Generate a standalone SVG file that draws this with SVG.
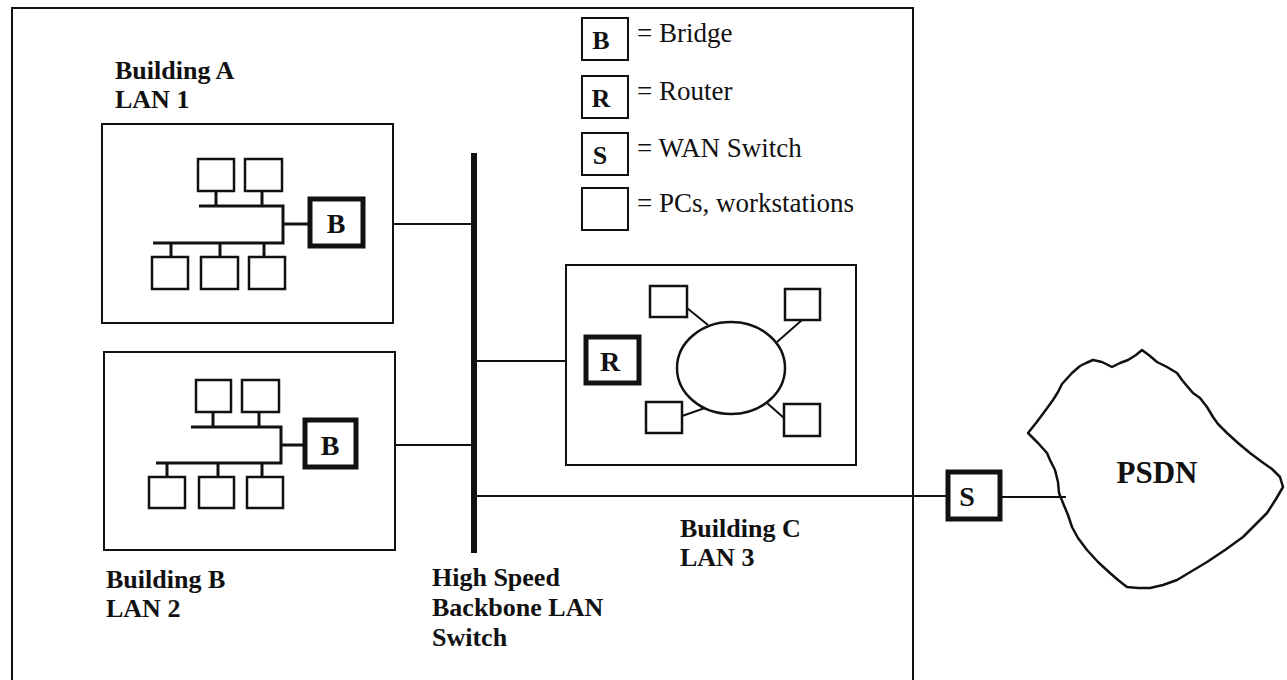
<svg xmlns="http://www.w3.org/2000/svg" width="1287" height="680" viewBox="0 0 1287 680">
<style>
.bg{fill:#fff}
.box{fill:#fff;stroke:#111;stroke-width:2}
.pc{fill:#fff;stroke:#111;stroke-width:2.5}
.bus{fill:none;stroke:#111;stroke-width:3}
.ln{fill:none;stroke:#111;stroke-width:2}
.node{fill:#fff;stroke:#111;stroke-width:5}
.lg{fill:#fff;stroke:#111;stroke-width:2}
.lbl{font-family:"Liberation Serif","Times New Roman",serif;font-weight:bold;font-size:26px;fill:#111}
.nl{font-family:"Liberation Serif","Times New Roman",serif;font-weight:bold;font-size:28px;fill:#111;text-anchor:middle}
.ll{font-family:"Liberation Serif","Times New Roman",serif;font-weight:bold;font-size:26px;fill:#111;text-anchor:middle}
.lt{font-family:"Liberation Serif","Times New Roman",serif;font-size:27px;fill:#111}
.big{font-family:"Liberation Serif","Times New Roman",serif;font-weight:bold;font-size:31px;fill:#111;text-anchor:middle}
</style>
<rect class="bg" x="0" y="0" width="1287" height="680"/>
<g id="frame">
<path class="ln" d="M12,690 L12,8 L913,8 L913,690"/>
</g>
<g id="connectors">
<line class="ln" x1="365" y1="224" x2="474" y2="224"/>
<line class="ln" x1="358" y1="445" x2="474" y2="445"/>
<line class="ln" x1="474" y1="361" x2="584" y2="361"/>
<line class="ln" x1="474" y1="496" x2="946" y2="496"/>
<line class="ln" x1="1002" y1="497" x2="1066" y2="497"/>
<line class="ln" x1="641" y1="357" x2="678" y2="357"/>
<line class="ln" x1="641" y1="365" x2="678" y2="365"/>
</g>
<g id="backbone">
<line x1="474" y1="153" x2="474" y2="553" stroke="#111" stroke-width="6"/>
<text class="lbl" x="432" y="586">High Speed</text>
<text class="lbl" x="432" y="616">Backbone LAN</text>
<text class="lbl" x="432" y="646">Switch</text>
</g>
<g id="buildingA">
<rect class="box" x="102" y="124" width="291" height="199"/>
<rect class="pc" x="198" y="159" width="36" height="32"/>
<rect class="pc" x="245" y="159" width="37" height="32"/>
<path class="bus" d="M216,191 V206 M262,191 V206 M199,206 H283 V243 H153 M283,224 H308"/>
<path class="bus" d="M171,243 V257 M220,243 V257 M264,243 V257"/>
<rect class="pc" x="152" y="257" width="36" height="32"/>
<rect class="pc" x="201" y="257" width="37" height="32"/>
<rect class="pc" x="249" y="257" width="36" height="32"/>
<text class="lbl" x="115" y="79">Building A</text>
<text class="lbl" x="115" y="108">LAN 1</text>
</g>
<g id="bridgeA">
<rect class="node" x="310" y="199" width="53" height="47"/>
<text class="nl" x="336" y="233">B</text>
</g>
<g id="buildingB">
<rect class="box" x="104" y="352" width="291" height="198"/>
<rect class="pc" x="196" y="380" width="35" height="32"/>
<rect class="pc" x="242" y="380" width="37" height="32"/>
<path class="bus" d="M213,412 V427 M259,412 V427 M191,427 H281 V463 H156 M281,445 H303"/>
<path class="bus" d="M167,463 V477 M218,463 V477 M262,463 V477"/>
<rect class="pc" x="149" y="477" width="36" height="31"/>
<rect class="pc" x="199" y="477" width="35" height="31"/>
<rect class="pc" x="247" y="477" width="36" height="31"/>
<text class="lbl" x="106" y="588">Building B</text>
<text class="lbl" x="106" y="617">LAN 2</text>
</g>
<g id="bridgeB">
<rect class="node" x="305" y="420" width="51" height="47"/>
<text class="nl" x="330" y="455">B</text>
</g>
<g id="buildingC">
<rect class="box" x="566" y="265" width="290" height="200"/>
<ellipse cx="731" cy="368" rx="54" ry="46" fill="#fff" stroke="#111" stroke-width="2.5"/>
<path class="ln" d="M687,308 L708,325 M802,320 L777,342 M682,416 L705,408 M784,418 L767,403" stroke-width="2.5"/>
<rect class="pc" x="650" y="286" width="37" height="31"/>
<rect class="pc" x="785" y="289" width="35" height="31"/>
<rect class="pc" x="646" y="402" width="36" height="31"/>
<rect class="pc" x="784" y="404" width="36" height="32"/>
<text class="lbl" x="680" y="537">Building C</text>
<text class="lbl" x="680" y="566">LAN 3</text>
</g>
<g id="router">
<rect class="node" x="586" y="337" width="53" height="46"/>
<text class="nl" x="610" y="371">R</text>
</g>
<g id="wanSwitch">
<rect class="node" x="948" y="472" width="52" height="47"/>
<text class="nl" x="967" y="506">S</text>
</g>
<g id="psdn">
<path fill="none" stroke="#111" stroke-width="2.5" stroke-linejoin="round" d="M1028,433 L1036,423 L1045,411 L1053,400 L1058,392 L1062,384 L1072,373 L1080,366 L1086,363 L1093,360 L1102,362 L1112,367 L1120,363 L1128,360 L1136,355 L1142,350 L1150,356 L1157,362 L1167,367 L1177,373 L1182,380 L1187,386 L1193,393 L1200,398 L1207,407 L1213,417 L1218,424 L1227,433 L1238,443 L1250,453 L1262,462 L1272,469 L1280,477 L1283,487 L1276,499 L1267,513 L1255,525 L1243,537 L1225,550 L1207,562 L1192,571 L1177,580 L1163,585 L1150,588 L1138,588 L1127,587 L1118,580 L1110,573 L1098,562 L1087,550 L1078,538 L1072,527 L1068,515 L1063,503 L1059,493 L1058,482 L1055,470 L1050,460 L1047,453 L1038,443 Z"/>
<text class="big" x="1157" y="483">PSDN</text>
</g>
<g id="legend">
<rect class="lg" x="582" y="18" width="46" height="42"/>
<text class="ll" x="601" y="49">B</text>
<text class="lt" x="637" y="42">= Bridge</text>
<rect class="lg" x="582" y="76" width="46" height="42"/>
<text class="ll" x="601" y="107">R</text>
<text class="lt" x="637" y="100">= Router</text>
<rect class="lg" x="582" y="133" width="46" height="42"/>
<text class="ll" x="600" y="164">S</text>
<text class="lt" x="637" y="157">= WAN Switch</text>
<rect class="lg" x="582" y="188" width="46" height="42"/>
<text class="lt" x="637" y="212">= PCs, workstations</text>
</g>
</svg>
